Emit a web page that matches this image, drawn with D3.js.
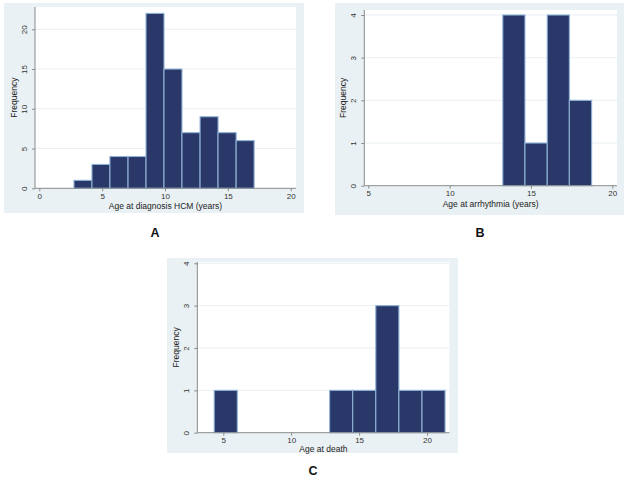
<!DOCTYPE html>
<html><head><meta charset="utf-8">
<script src="https://cdn.jsdelivr.net/npm/d3@7"></script>
<style>body{margin:0;background:#fff}svg{display:block}text{font-family:"Liberation Sans",Arial,sans-serif}</style>
</head><body>
<script>
// Panel A: age at diagnosis HCM
const diagBinEdges = [2.76, 4.19, 5.62, 7.06, 8.49, 9.92, 11.35, 12.79, 14.22, 15.66, 17.09];
const diagCounts = [1, 3, 4, 4, 22, 15, 7, 9, 7, 6];
const diagXTicks = [0, 5, 10, 15, 20];
const diagYTicks = [0, 5, 10, 15, 20];
// Panel B: age at arrhythmia
const arrBinEdges = [13.27, 14.63, 16.0, 17.36, 18.73];
const arrCounts = [4, 1, 4, 2];
const arrXTicks = [5, 10, 15, 20];
const arrYTicks = [0, 1, 2, 3, 4];
// Panel C: age at death
const deathBinEdges = [4.33, 6.03, 7.73, 9.43, 11.13, 12.83, 14.53, 16.23, 17.93, 19.63, 21.33];
const deathCounts = [1, 0, 0, 0, 0, 1, 1, 3, 1, 1];
const deathXTicks = [5, 10, 15, 20];
const deathYTicks = [0, 1, 2, 3, 4];
const panelLabels = ["A", "B", "C"];
const xTitles = ["Age at diagnosis HCM (years)", "Age at arrhythmia (years)", "Age at death"];

const W = 629, H = 478;
const svg = d3.select("body").append("svg").attr("width", W).attr("height", H);

const panels = [
  {edges: diagBinEdges, counts: diagCounts, xt: diagXTicks, yt: diagYTicks, xd: [0, 20], yd: [0, 20],
   bg: [4, 3, 304, 213], plot: [35, 7, 296, 188.3], xr: [39.3, 290.7], yr: [188.3, 29.3],
   title: xTitles[0], tOff: 21, label: panelLabels[0], lab: [155, 236.5]},
  {edges: arrBinEdges, counts: arrCounts, xt: arrXTicks, yt: arrYTicks, xd: [5, 20], yd: [0, 4],
   bg: [335, 3, 624, 215], plot: [364.3, 10, 617, 185.7], xr: [368.3, 612.3], yr: [185.7, 15],
   title: xTitles[1], tOff: 21, label: panelLabels[1], lab: [480, 236.5]},
  {edges: deathBinEdges, counts: deathCounts, xt: deathXTicks, yt: deathYTicks, xd: [5, 20], yd: [0, 4],
   bg: [167, 258, 458, 453], plot: [197.3, 262, 449.5, 432.7], xr: [223.3, 427], yr: [432.7, 263.3],
   title: xTitles[2], tOff: 19, label: panelLabels[2], lab: [313, 475]}
];

panels.forEach(p => {
  const g = svg.append("g");
  g.append("rect").attr("x", p.bg[0]).attr("y", p.bg[1]).attr("width", p.bg[2]-p.bg[0]).attr("height", p.bg[3]-p.bg[1]).attr("fill", "#eaf1f4");
  g.append("rect").attr("x", p.plot[0]).attr("y", p.plot[1]).attr("width", p.plot[2]-p.plot[0]).attr("height", p.plot[3]-p.plot[1]).attr("fill", "#ffffff");
  const x = d3.scaleLinear().domain(p.xd).range(p.xr);
  const y = d3.scaleLinear().domain(p.yd).range(p.yr);
  // gridlines
  g.selectAll(".grid").data(p.yt.filter(v => v !== 0)).join("line")
    .attr("x1", p.plot[0]).attr("x2", p.plot[2]).attr("y1", d => y(d)).attr("y2", d => y(d))
    .attr("stroke", "#eaf0f3").attr("stroke-width", 1);
  // bars
  const bins = p.counts.map((c, i) => ({x0: p.edges[i], x1: p.edges[i+1], c}));
  g.selectAll(".bar").data(bins.filter(b => b.c > 0)).join("rect")
    .attr("x", d => x(d.x0)).attr("width", d => x(d.x1) - x(d.x0))
    .attr("y", d => y(d.c)).attr("height", d => y(0) - y(d.c))
    .attr("fill", "#2a3869").attr("stroke", "#8fb2d6").attr("stroke-width", 1.1);
  // axes
  const xAxis = d3.axisBottom(x).tickValues(p.xt).tickSize(3).tickPadding(2).tickFormat(d3.format("d"));
  const xg = g.append("g").attr("transform", `translate(0,${p.plot[3]})`).call(xAxis);
  xg.select(".domain").attr("d", `M${p.plot[0]},0H${p.plot[2]}`).attr("stroke", "#8a8a8a");
  xg.selectAll(".tick line").attr("stroke", "#8a8a8a");
  xg.selectAll("text").attr("font-size", 8).attr("fill", "#333");
  const yAxis = d3.axisLeft(y).tickValues(p.yt).tickSize(3).tickPadding(2).tickFormat(d3.format("d"));
  const yg = g.append("g").attr("transform", `translate(${p.plot[0]},0)`).call(yAxis);
  yg.select(".domain").attr("d", `M0,${p.plot[3]}V${p.plot[1]}`).attr("stroke", "#8a8a8a");
  yg.selectAll(".tick line").attr("stroke", "#8a8a8a");
  yg.selectAll("text").attr("font-size", 8).attr("fill", "#333")
    .attr("text-anchor", "middle").attr("x", 0).attr("dy", 0)
    .attr("transform", "translate(-8,0) rotate(-90)");
  // titles
  g.append("text").attr("x", (p.plot[0] + p.plot[2]) / 2).attr("y", p.plot[3] + p.tOff)
    .attr("text-anchor", "middle").attr("font-size", 8.5).attr("fill", "#222").text(p.title);
  g.append("text").attr("transform", `translate(${p.plot[0] - 18},${(p.plot[1] + p.plot[3]) / 2}) rotate(-90)`)
    .attr("text-anchor", "middle").attr("font-size", 8.5).attr("fill", "#222").text("Frequency");
  svg.append("text").attr("x", p.lab[0]).attr("y", p.lab[1]).attr("text-anchor", "middle")
    .attr("font-size", 12.5).attr("font-weight", "bold").attr("fill", "#111").text(p.label);
});
</script>
</body></html>
